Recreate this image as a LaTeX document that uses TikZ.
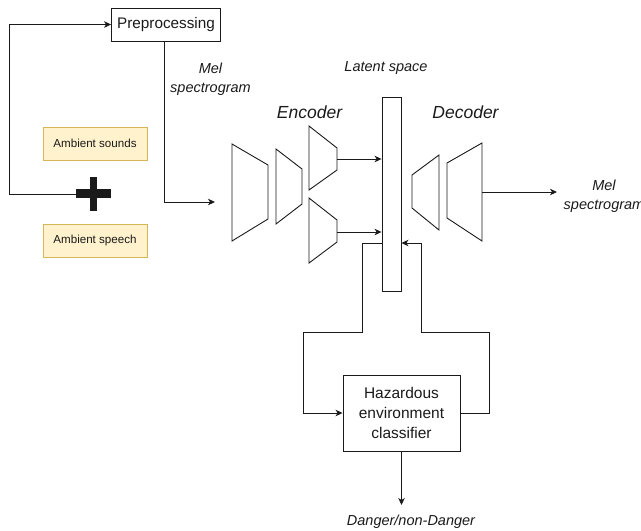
\documentclass[tikz,border=0pt]{standalone}
\usepackage{fontspec}
\setmainfont{Liberation Sans}
\usetikzlibrary{arrows.meta}
\definecolor{ambfill}{HTML}{FFF2CC}
\definecolor{ambdraw}{HTML}{D6B656}
\definecolor{ink}{HTML}{1A1A1A}
\begin{document}
\begin{tikzpicture}[x=1pt,y=-1pt,
  line width=0.9pt, draw=ink,
  >={Stealth[length=7pt,width=6.5pt,inset=2pt]},
  conn/.style={->, draw=ink},
  layer/.style={draw=ink, line width=0.9pt, line join=miter},
  boxnode/.style={draw=ink, inner sep=0, align=center, text=ink},
  ambbox/.style={draw=ambdraw, fill=ambfill, inner sep=0, minimum width=104pt, minimum height=33pt, text=ink, font=\fontsize{11.6}{14}\selectfont},
  lbl/.style={font=\fontsize{14.5}{19}\selectfont\itshape, text=ink, align=center, inner sep=0},
  biglbl/.style={font=\fontsize{17.5}{21}\selectfont\itshape, text=ink, inner sep=0}
]
\useasboundingbox (0,0) rectangle (641,531);

% Preprocessing
\node[boxnode, minimum width=109pt, minimum height=33pt, font=\fontsize{15.3}{18}\selectfont] (pre) at (166,24.5) {Preprocessing};

% Ambient boxes
\node[ambbox] (snd) at (95,143.5) {Ambient sounds};
\node[ambbox] (spc) at (95,240.5) {Ambient speech};

% Plus sign
\node[minimum width=35pt, minimum height=34pt, inner sep=0] (plus) at (93.5,194) {};
\fill[ink] (76,189) rectangle (111,198);
\fill[ink] (90,177) rectangle (97,211);

% Loop to preprocessing
\draw[conn] (plus.west) -- ++(-66,0) |- (pre.west);

% Mel spectrogram input
\node[lbl] (melin) at (210.5,79.5) {Mel\\spectrogram};
\coordinate (encin) at (215,202);
\draw[conn] ([xshift=-2pt]pre.south) |- (encin);

% Encoder
\node[biglbl] (enc) at (309.5,112) {Encoder};
\draw[layer] (232,144) -- (268,165) -- (268,219) -- (232,241) -- cycle;
\draw[layer] (276,149) -- (302,169) -- (302,204) -- (276,224) -- cycle;
\draw[layer] (309,126) -- (337,148) -- (337,170) -- (309,190) -- cycle;
\draw[layer] (309,198) -- (337,220) -- (337,242) -- (309,263) -- cycle;

% Latent space
\node[lbl] (latlbl) at (386,68) {Latent space};
\node[draw=ink, minimum width=19pt, minimum height=194pt, inner sep=0] (lat) at (391.5,194) {};

\coordinate (e1) at (337,159);
\coordinate (e2) at (337,232);
\draw[conn] (e1) -- (e1 -| lat.west);
\draw[conn] (e2) -- (e2 -| lat.west);

% Decoder
\node[biglbl] (dec) at (465.5,112) {Decoder};
\draw[layer] (412,175) -- (439,155) -- (439,230) -- (412,208) -- cycle;
\draw[layer] (447,163) -- (482,143) -- (482,241) -- (447,218) -- cycle;
\coordinate (d2) at (482,192);
\coordinate (melout) at (557,192);
\draw[conn] (d2) -- (melout);
\node[lbl] (meloutlbl) at (604,196) {Mel\\spectrogram};

% Classifier
\node[boxnode, minimum width=117pt, minimum height=76pt, font=\fontsize{15.5}{20}\selectfont] (cls) at (401.5,413) {Hazardous\\environment\\classifier};

\draw[conn] ([yshift=-49pt]lat.west) -| (362,332) -| (303,413) -- (cls.west);
\draw[conn] (cls.east) -| (489,332) -| (421,243) -- ([yshift=-49pt]lat.east);

\coordinate (out) at (401.5,505);
\draw[conn] (cls.south) -- (out);
\node[lbl] (danger) at (411,522) {Danger/non-Danger};
\end{tikzpicture}
\end{document}
